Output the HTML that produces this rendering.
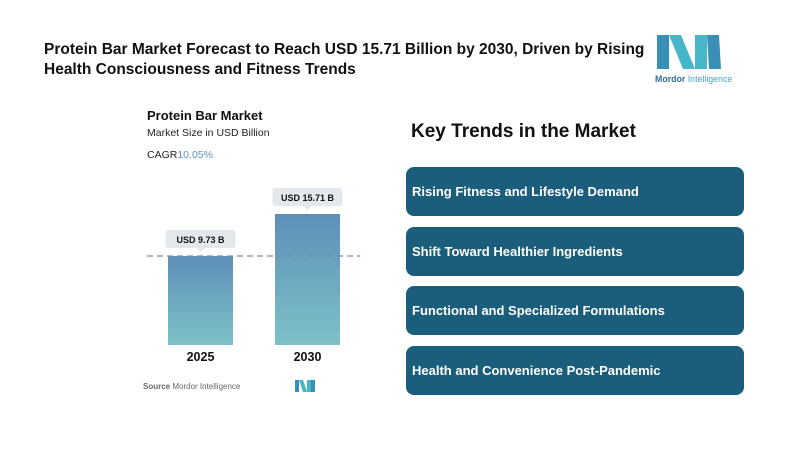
<!DOCTYPE html>
<html><head><meta charset="utf-8"><style>
body{margin:0;width:800px;height:450px;background:#fff;font-family:"Liberation Sans",sans-serif;position:relative;overflow:hidden}
.t{position:absolute;left:44px;top:40px;font-size:15.5px;font-weight:bold;color:#111;line-height:20px;width:620px}
.card{position:absolute;left:406px;width:338px;height:49px;background:#1b5e7b;border-radius:8px;color:#fff;font-weight:bold;font-size:13px;line-height:49px;padding-left:6px;box-sizing:border-box}
</style></head><body>
<div class="t">Protein Bar Market Forecast to Reach USD 15.71 Billion by 2030, Driven by Rising Health Consciousness and Fitness Trends</div>
<svg style="position:absolute;left:655px;top:33px" width="82" height="52" viewBox="0 0 82 52">
<polygon points="2,2 14,2 14,36 2,36" fill="#3a8fb7"/><polygon points="14,2 26,2 40,36 28,36" fill="#46b6c8"/><polygon points="40,2 52,2 52,36 40,36" fill="#46b6c8"/><polygon points="52,2 64,2 66,36 54,36" fill="#3a8fb7"/>
<text x="0" y="49" font-size="8.8" fill="#2f6f95" font-family="Liberation Sans" font-weight="bold">Mordor<tspan font-weight="normal" fill="#46a6c0"> Intelligence</tspan></text></svg>
<div style="position:absolute;left:147px;top:108px;font-size:13px;font-weight:bold;color:#111">Protein Bar Market</div>
<div style="position:absolute;left:147px;top:127px;font-size:10.5px;color:#222">Market Size in USD Billion</div>
<div style="position:absolute;left:147px;top:149px;font-size:10.5px;color:#222">CAGR<span style="color:#5b93bd">10.05%</span></div>
<svg id="ch" style="position:absolute;left:0;top:0" width="400" height="450">
<defs><linearGradient id="g" x1="0" y1="0" x2="0" y2="1"><stop offset="0" stop-color="#5d8fb8"/><stop offset="1" stop-color="#7ec2c8"/></linearGradient></defs>
</svg>
<div style="position:absolute;left:143px;top:382px;font-size:8px;color:#666"><b>Source</b> Mordor Intelligence</div>
<svg style="position:absolute;left:295px;top:380px" width="20" height="12"><polygon points="0,0 4,0 4,12 0,12" fill="#3a8fb7"/><polygon points="4,0 8,0 12,12 8,12" fill="#46b6c8"/><polygon points="12,0 16,0 16,12 12,12" fill="#46b6c8"/><polygon points="16,0 20,0 20,12 16,12" fill="#3a8fb7"/></svg>
<div style="position:absolute;left:411px;top:121px;font-size:19px;font-weight:bold;color:#111">Key Trends in the Market</div>
<div class="card" style="top:167px">Rising Fitness and Lifestyle Demand</div>
<div class="card" style="top:227px">Shift Toward Healthier Ingredients</div>
<div class="card" style="top:286px">Functional and Specialized Formulations</div>
<div class="card" style="top:346px">Health and Convenience Post-Pandemic</div>
<script>
const categories=["2025","2030"];
const values=[9.73,15.71];
const valueLabels=["USD 9.73 B","USD 15.71 B"];
const NS="http://www.w3.org/2000/svg",svg=document.getElementById('ch');
const base=345,yMin=-2.95,yMax=15.71,topPx=214;
function y(v){return base-(v-yMin)/(yMax-yMin)*(base-topPx);}
function x(i){return 168+i*107;}
function mk(t,a,p){const e=document.createElementNS(NS,t);for(const k in a)e.setAttribute(k,a[k]);(p||svg).appendChild(e);return e;}
values.forEach((v,i)=>{
 const b=mk('rect',{x:x(i),y:y(v),width:65,height:base-y(v),fill:'url(#g)'});
 
 
 const cx=x(i)+32.5,ty=y(v)-26;
 const bx=mk('rect',{x:cx-35,y:ty,width:70,height:18,rx:3,fill:'#e3e8ec'});
 
 
 mk('polygon',{points:`${cx-4},${ty+18} ${cx+4},${ty+18} ${cx},${ty+22}`,fill:'#e3e8ec'});
 const t=mk('text',{x:cx,y:ty+13,'text-anchor':'middle','font-size':9,'font-weight':'bold',fill:'#111'});t.textContent=valueLabels[i];
 
 
 const c=mk('text',{x:cx,y:base+16,'text-anchor':'middle','font-size':12.5,'font-weight':'bold',fill:'#111'});c.textContent=categories[i];
 
 
});
const d=mk('line',{x1:147,x2:360,y1:y(values[0]),y2:y(values[0]),stroke:'#6f8fa8','stroke-width':1.2,'stroke-dasharray':'6,4'});


</script>
</body></html>
